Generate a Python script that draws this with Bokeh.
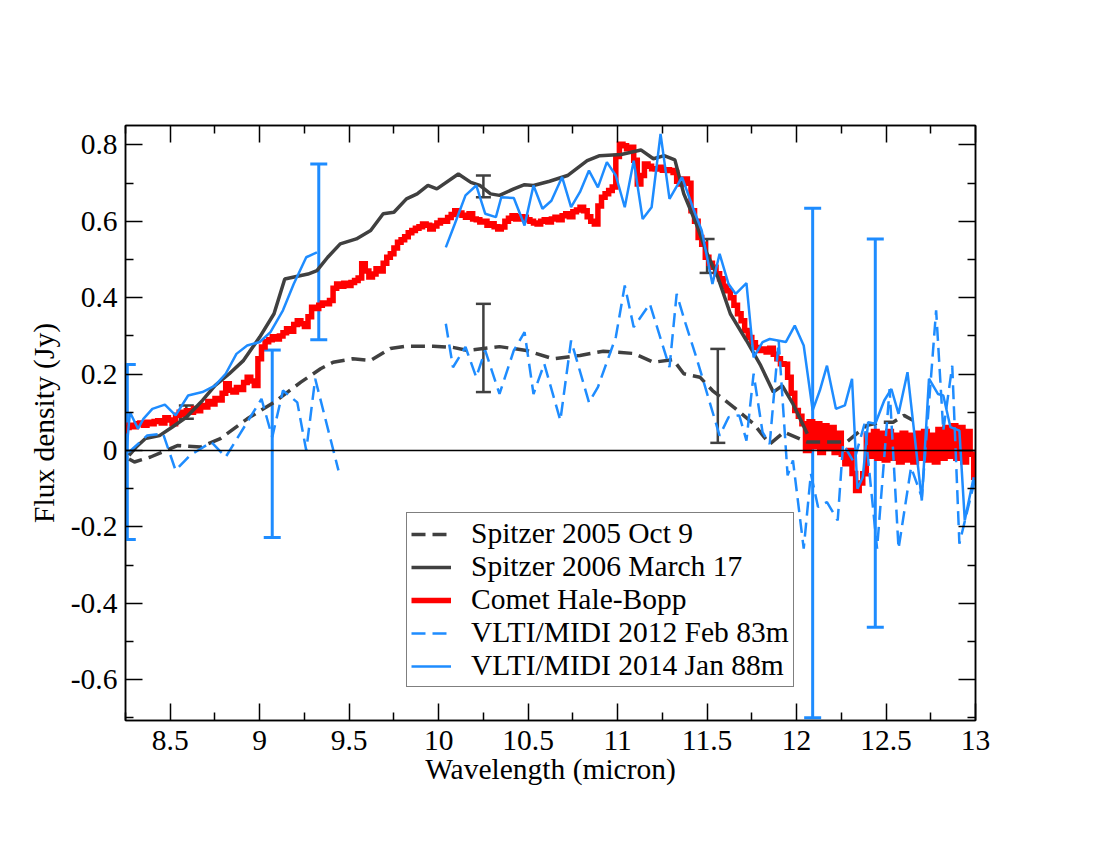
from bokeh.plotting import figure
from bokeh.models import (Range1d, LinearAxis, FixedTicker, Span, Whisker, TeeHead,
                          ColumnDataSource, Legend, LegendItem)
from bokeh.embed import file_html
from bokeh.resources import INLINE

# ---------------- data ----------------
# Spitzer 2005 Oct 9 (dashed grey)
sp05_x = [8.27, 8.30, 8.39, 8.54, 8.67, 8.78, 8.93, 9.08, 9.23, 9.34, 9.41, 9.52, 9.62, 9.73,
          9.82, 9.97, 10.08, 10.16, 10.25, 10.34, 10.49, 10.64, 10.79, 10.92, 11.09, 11.20,
          11.31, 11.37, 11.46, 11.53, 11.65, 11.76, 11.85, 11.93, 12.06, 12.28, 12.39, 12.47,
          12.54, 12.60, 12.65]
sp05_y = [-0.022, -0.030, -0.017, 0.013, 0.009, 0.031, 0.083, 0.126, 0.179, 0.214, 0.231,
          0.240, 0.236, 0.267, 0.273, 0.273, 0.270, 0.262, 0.267, 0.272, 0.262, 0.240, 0.249,
          0.260, 0.254, 0.231, 0.238, 0.201, 0.192, 0.157, 0.113, 0.070, 0.017, 0.048, 0.022,
          0.022, 0.065, 0.074, 0.074, 0.092, 0.079]

# Spitzer 2006 March 17 (solid grey)
sp06_x = [8.27, 8.31, 8.36, 8.44, 8.51, 8.59, 8.68, 8.75, 8.83, 8.91, 9.00, 9.08, 9.14, 9.27,
          9.32, 9.38, 9.45, 9.54, 9.62, 9.69, 9.75, 9.82, 9.88, 9.94, 9.99, 10.11, 10.18,
          10.23, 10.29, 10.34, 10.42, 10.48, 10.53, 10.62, 10.72, 10.83, 10.90, 11.02, 11.13,
          11.20, 11.26, 11.32, 11.37, 11.44, 11.50, 11.56, 11.63, 11.72, 11.80, 11.87, 11.92,
          11.98, 12.06]
sp06_y = [-0.013, 0.009, 0.031, 0.039, 0.061, 0.087, 0.131, 0.170, 0.201, 0.236, 0.297, 0.358,
          0.449, 0.462, 0.471, 0.506, 0.541, 0.554, 0.576, 0.620, 0.624, 0.659, 0.672, 0.694,
          0.685, 0.724, 0.702, 0.694, 0.672, 0.668, 0.685, 0.696, 0.694, 0.705, 0.720, 0.759,
          0.772, 0.775, 0.787, 0.764, 0.772, 0.761, 0.672, 0.593, 0.515, 0.454, 0.358, 0.288,
          0.222, 0.153, 0.170, 0.122, 0.044]

# Comet Hale-Bopp (red spectrum, 0.02 micron sampling from 8.24)
hb_y = [0.052, 0.060, 0.066, 0.062, 0.070, 0.072, 0.066, 0.074, 0.070, 0.076,
        0.078, 0.072, 0.086, 0.080, 0.070, 0.092, 0.100, 0.094, 0.104, 0.100,
        0.110, 0.104, 0.118, 0.114, 0.128, 0.122, 0.136, 0.132, 0.150, 0.175,
        0.158, 0.153, 0.165, 0.160, 0.178, 0.192, 0.182, 0.170, 0.240, 0.271,
        0.285, 0.290, 0.298, 0.292, 0.300, 0.308, 0.319, 0.312, 0.330, 0.340,
        0.332, 0.325, 0.350, 0.375, 0.372, 0.380, 0.386, 0.384, 0.393, 0.425,
        0.436, 0.430, 0.438, 0.432, 0.440, 0.445, 0.452, 0.489, 0.470, 0.454,
        0.462, 0.476, 0.470, 0.490, 0.506, 0.515, 0.530, 0.545, 0.552, 0.560,
        0.570, 0.576, 0.582, 0.586, 0.593, 0.590, 0.580, 0.588, 0.596, 0.602,
        0.600, 0.610, 0.618, 0.628, 0.622, 0.616, 0.611, 0.620, 0.606, 0.604,
        0.598, 0.600, 0.590, 0.594, 0.586, 0.580, 0.585, 0.600, 0.608, 0.615,
        0.606, 0.612, 0.611, 0.604, 0.600, 0.596, 0.593, 0.600, 0.604, 0.598,
        0.606, 0.611, 0.604, 0.615, 0.620, 0.612, 0.625, 0.630, 0.637, 0.628,
        0.612, 0.600, 0.593, 0.640, 0.663, 0.672, 0.681, 0.690, 0.770, 0.802,
        0.798, 0.790, 0.794, 0.760, 0.698, 0.720, 0.750, 0.744, 0.738, 0.737,
        0.742, 0.734, 0.735, 0.733, 0.728, 0.705, 0.698, 0.711, 0.700, 0.628,
        0.600, 0.558, 0.540, 0.506, 0.490, 0.480, 0.463, 0.450, 0.430, 0.418,
        0.400, 0.380, 0.358, 0.340, 0.314, 0.296, 0.282, 0.270, 0.262, 0.266,
        0.258, 0.268, 0.252, 0.240, 0.227, 0.226, 0.192, 0.150, 0.105, 0.090,
        0.070, 0.000, 0.075, 0.010, 0.070, -0.005, 0.065, 0.005, 0.060, -0.005,
        0.045, -0.010, -0.035, 0.000, -0.060, -0.105, -0.085, -0.061, 0.040, -0.015,
        0.050, -0.020, 0.045, -0.025, 0.050, -0.020, 0.040, -0.030, 0.045, -0.025,
        0.040, -0.030, 0.045, -0.020, 0.050, -0.025, 0.040, -0.030, 0.055, -0.020,
        0.060, -0.015, 0.065, -0.020, 0.060, -0.030, 0.050, -0.010, -0.070]
hb_x = [round(8.24 + 0.02 * i, 2) for i in range(len(hb_y))]

# VLTI/MIDI 2012 Feb 83m (dashed blue), two segments
m12a_x = [8.27, 8.37, 8.46, 8.53, 8.61, 8.73, 8.81, 9.01, 9.07, 9.13, 9.21, 9.26, 9.31, 9.44]
m12a_y = [-0.004, 0.039, 0.044, -0.052, -0.013, 0.022, -0.017, 0.135, 0.035, 0.157, 0.126,
          0.000, 0.188, -0.052]
m12b_x = [10.04, 10.08, 10.15, 10.21, 10.26, 10.34, 10.42, 10.48, 10.53, 10.59, 10.68, 10.74,
          10.84, 10.89, 10.99, 11.04, 11.09, 11.18, 11.29, 11.33, 11.38, 11.44, 11.57, 11.62,
          11.68, 11.72, 11.76, 11.81, 11.85, 11.90, 11.95, 11.98, 12.04, 12.08, 12.12, 12.17,
          12.23, 12.26, 12.32, 12.38, 12.45, 12.52, 12.57, 12.64, 12.70, 12.78, 12.82, 12.87,
          12.91, 12.95, 13.00]
m12b_y = [0.332, 0.218, 0.271, 0.192, 0.262, 0.148, 0.262, 0.310, 0.148, 0.227, 0.079, 0.288,
          0.126, 0.166, 0.297, 0.432, 0.323, 0.384, 0.218, 0.410, 0.332, 0.244, 0.039, 0.087,
          0.092, 0.026, 0.201, 0.048, 0.017, 0.288, -0.065, -0.026, -0.257, -0.061, -0.148,
          -0.135, -0.183, 0.017, -0.030, 0.070, -0.257, 0.161, -0.257, -0.044, -0.122, 0.367,
          0.052, 0.222, -0.244, -0.166, -0.070]

# VLTI/MIDI 2014 Jan 88m (solid blue), two segments
m14a_x = [8.255, 8.275, 8.32, 8.35, 8.40, 8.47, 8.53, 8.60, 8.68, 8.75, 8.81, 8.87, 8.93,
          9.00, 9.06, 9.13, 9.19, 9.26, 9.32]
m14a_y = [0.000, 0.100, 0.057, 0.083, 0.109, 0.120, 0.092, 0.144, 0.153, 0.170, 0.201, 0.253,
          0.275, 0.284, 0.310, 0.367, 0.436, 0.506, 0.519]
m14b_x = [10.04, 10.09, 10.15, 10.21, 10.26, 10.32, 10.35, 10.42, 10.48, 10.53, 10.58, 10.63,
          10.69, 10.74, 10.79, 10.84, 10.89, 10.94, 10.99, 11.04, 11.09, 11.14, 11.19, 11.24,
          11.29, 11.36, 11.42, 11.47, 11.53, 11.57, 11.62, 11.66, 11.72, 11.76, 11.81, 11.85,
          11.94, 11.99, 12.04, 12.09, 12.13, 12.17, 12.22, 12.27, 12.31, 12.34, 12.37, 12.40,
          12.44, 12.49, 12.53, 12.57, 12.62, 12.70, 12.74, 12.79, 12.82, 12.86, 12.91, 12.94,
          12.99]
m14b_y = [0.532, 0.593, 0.668, 0.694, 0.620, 0.611, 0.663, 0.661, 0.589, 0.694, 0.633, 0.654,
          0.716, 0.637, 0.677, 0.733, 0.689, 0.755, 0.720, 0.637, 0.759, 0.606, 0.637, 0.829,
          0.659, 0.716, 0.637, 0.576, 0.436, 0.515, 0.436, 0.410, 0.438, 0.244, 0.284, 0.292,
          0.284, 0.327, 0.275, 0.105, 0.157, 0.222, 0.109, 0.118, 0.188, -0.100, -0.070, 0.074,
          0.070, 0.131, 0.161, 0.096, 0.205, -0.131, 0.188, 0.148, 0.144, 0.061, 0.052, -0.183,
          -0.070]

# error bars
blue_err_x = [8.26, 9.07, 9.33, 12.09, 12.44]
blue_err_lo = [-0.233, -0.228, 0.290, -0.700, -0.463]
blue_err_hi = [0.225, 0.263, 0.750, 0.634, 0.554]
grey_err_x = [8.59, 10.25, 10.25, 11.50, 11.56]
grey_err_lo = [0.083, 0.663, 0.153, 0.465, 0.020]
grey_err_hi = [0.118, 0.720, 0.384, 0.554, 0.266]

x_ticks = [8.5, 9, 9.5, 10, 10.5, 11, 11.5, 12, 12.5, 13]
x_minor = [8.25, 8.75, 9.25, 9.75, 10.25, 10.75, 11.25, 11.75, 12.25, 12.75]
x_labels = ["8.5", "9", "9.5", "10", "10.5", "11", "11.5", "12", "12.5", "13"]
y_ticks = [-0.6, -0.4, -0.2, 0, 0.2, 0.4, 0.6, 0.8]
y_minor = [-0.7, -0.5, -0.3, -0.1, 0.1, 0.3, 0.5, 0.7]
y_labels = ["-0.6", "-0.4", "-0.2", "0", "0.2", "0.4", "0.6", "0.8"]

GREY = "#404040"
BLUE = "#1E8CFF"
RED = "#FF0000"
FONT = "Liberation Serif"
FS = "29.5px"

# ---------------- figure ----------------
p = figure(frame_width=850, frame_height=595,
           x_range=Range1d(8.25, 13.0), y_range=Range1d(-0.707, 0.851),
           output_backend="svg", toolbar_location=None,
           min_border_left=125, min_border_top=125, min_border_right=110,
           min_border_bottom=115)
p.xgrid.visible = False
p.ygrid.visible = False
p.outline_line_color = "black"
p.outline_line_width = 1.5
p.background_fill_color = "white"
p.border_fill_color = "white"


def style_axis(ax, ticks, minor, labels, show_labels):
    ax.ticker = FixedTicker(ticks=ticks, minor_ticks=minor)
    ax.major_tick_in = 17
    ax.major_tick_out = 0
    ax.minor_tick_in = 8
    ax.minor_tick_out = 0
    ax.major_tick_line_width = 1.5
    ax.minor_tick_line_width = 1.5
    ax.major_tick_line_color = "black"
    ax.minor_tick_line_color = "black"
    ax.axis_line_width = 1.5
    ax.axis_line_color = "black"
    ax.major_label_text_font = FONT
    ax.major_label_text_font_size = FS
    ax.major_label_text_color = "black"
    ax.axis_label_text_font = FONT
    ax.axis_label_text_font_size = FS
    ax.axis_label_text_font_style = "normal"
    ax.axis_label_text_color = "black"
    ax.major_label_overrides = {t: l for t, l in zip(ticks, labels)}
    if not show_labels:
        ax.major_label_text_font_size = "0px"
        ax.major_label_text_alpha = 0


xa = p.xaxis[0]
style_axis(xa, x_ticks, x_minor, x_labels, True)
xa.axis_label = "Wavelength (micron)"
xa.major_label_standoff = 10
xa.axis_label_standoff = 0
ya = p.yaxis[0]
style_axis(ya, y_ticks, y_minor, y_labels, True)
ya.axis_label = "Flux density (Jy)"
ya.major_label_standoff = 8
ya.axis_label_standoff = 8

top = LinearAxis()
style_axis(top, x_ticks, x_minor, x_labels, False)
p.add_layout(top, "above")
right = LinearAxis()
style_axis(right, y_ticks, y_minor, y_labels, False)
p.add_layout(right, "right")

p.add_layout(Span(location=0, dimension="width", line_color="black", line_width=1.5))

# ---------------- series ----------------
r_hb = p.step(hb_x, hb_y, mode="center", line_color=RED, line_width=5.5,
              line_join="miter", line_cap="butt")
r_sp05 = p.line(sp05_x, sp05_y, line_color=GREY, line_width=3.5, line_dash="14 7")
r_sp06 = p.line(sp06_x, sp06_y, line_color=GREY, line_width=3.5)
r_m12 = p.line(m12a_x, m12a_y, line_color=BLUE, line_width=2.5, line_dash="14 7")
p.line(m12b_x, m12b_y, line_color=BLUE, line_width=2.5, line_dash="14 7")
r_m14 = p.line(m14a_x, m14a_y, line_color=BLUE, line_width=2.5)
p.line(m14b_x, m14b_y, line_color=BLUE, line_width=2.5)

bsrc = ColumnDataSource(dict(x=blue_err_x, lo=blue_err_lo, hi=blue_err_hi))
p.add_layout(Whisker(base="x", lower="lo", upper="hi", source=bsrc, dimension="height",
                     line_color=BLUE, line_width=3,
                     upper_head=TeeHead(size=17, line_color=BLUE, line_width=3),
                     lower_head=TeeHead(size=17, line_color=BLUE, line_width=3)))
gsrc = ColumnDataSource(dict(x=grey_err_x, lo=grey_err_lo, hi=grey_err_hi))
p.add_layout(Whisker(base="x", lower="lo", upper="hi", source=gsrc, dimension="height",
                     line_color=GREY, line_width=2.5,
                     upper_head=TeeHead(size=15, line_color=GREY, line_width=2.5),
                     lower_head=TeeHead(size=15, line_color=GREY, line_width=2.5)))

legend = Legend(items=[
    LegendItem(label="Spitzer 2005 Oct 9", renderers=[r_sp05]),
    LegendItem(label="Spitzer 2006 March 17", renderers=[r_sp06]),
    LegendItem(label="Comet Hale-Bopp", renderers=[r_hb]),
    LegendItem(label="VLTI/MIDI 2012 Feb 83m", renderers=[r_m12]),
    LegendItem(label="VLTI/MIDI 2014 Jan 88m", renderers=[r_m14]),
], location=(281, 33))
legend.label_text_font = FONT
legend.label_text_font_size = FS
legend.label_text_color = "black"
legend.border_line_color = "black"
legend.border_line_width = 1.5
legend.background_fill_alpha = 1.0
legend.glyph_width = 40
legend.glyph_height = 20
legend.label_standoff = 20
legend.label_height = 20
legend.label_width = 316
legend.padding = 4
legend.spacing = 0
legend.margin = 0
p.add_layout(legend, "center")

open("out.html", "w").write(file_html(p, INLINE))
